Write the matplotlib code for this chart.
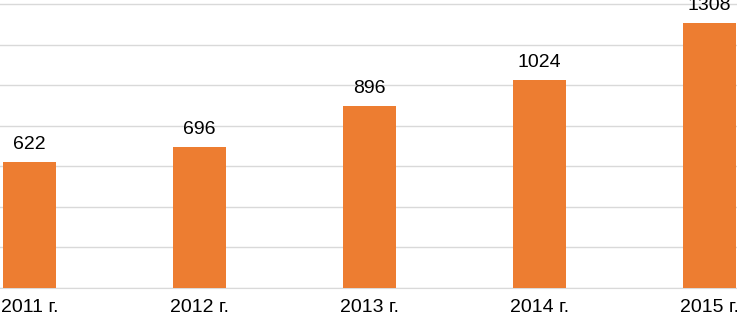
import matplotlib.pyplot as plt
import numpy as np

# data
years = ['2011 г.', '2012 г.', '2013 г.', '2014 г.', '2015 г.']
values = [622, 696, 896, 1024, 1308]

plt.rcParams['font.family'] = ['Liberation Sans', 'DejaVu Sans']

fig = plt.figure(figsize=(7.37, 3.18), dpi=100)
ax = fig.add_axes([0, 30 / 318, 1, 288 / 318])

x = np.arange(len(years))
bars = ax.bar(x, values, width=0.31, color='#ED7D31', zorder=3)

for xi, v in zip(x, values):
    ax.annotate(str(v), (xi, v), xytext=(0, 6.5), textcoords='offset points',
                ha='center', va='bottom', fontsize=14, color='#000000')

ax.set_xlim(-0.174, 4.162)
ax.set_ylim(0, 1421)
ax.set_yticks(np.arange(0, 1401, 200))
ax.yaxis.grid(True, color='#D9D9D9', linewidth=1.0, zorder=0)
ax.tick_params(axis='y', left=False, labelleft=False)
ax.tick_params(axis='x', length=0, pad=8, labelsize=14)
ax.set_xticks(x)
ax.set_xticklabels(years)
for side in ['top', 'right', 'left']:
    ax.spines[side].set_visible(False)
ax.spines['bottom'].set_color('#D9D9D9')

fig.savefig('out.png', dpi=100)
